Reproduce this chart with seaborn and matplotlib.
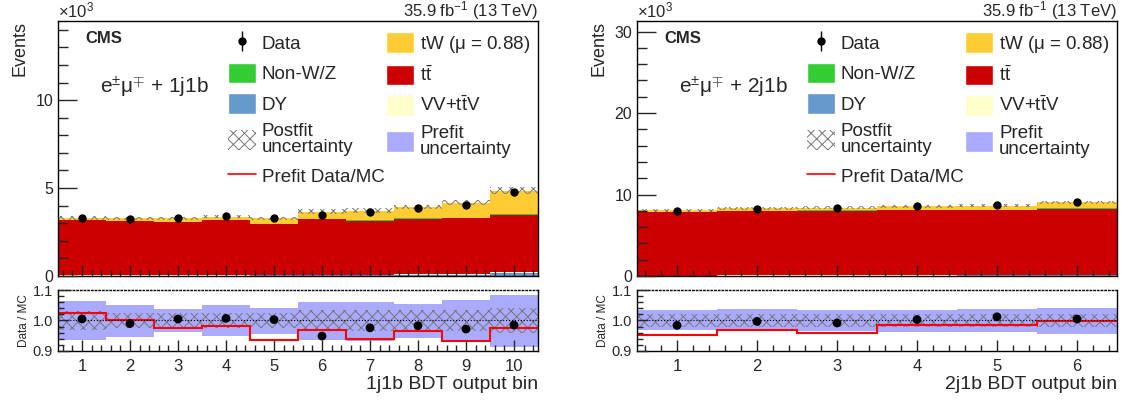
import numpy as np
import pandas as pd
import seaborn as sns
import matplotlib.pyplot as plt
from matplotlib.lines import Line2D
from matplotlib.patches import Patch
from matplotlib.ticker import MultipleLocator

sns.set_theme(style='ticks')
plt.rcParams['font.family'] = ['Liberation Sans', 'DejaVu Sans']
plt.rcParams['mathtext.fontset'] = 'custom'
plt.rcParams['mathtext.rm'] = 'Liberation Sans'
plt.rcParams['mathtext.it'] = 'Liberation Sans:italic'
plt.rcParams['hatch.linewidth'] = 0.7

# processos (de cima para baixo na pilha)
procs = ['tW', 'Non-W/Z', 'tt', 'VV', 'DY']
cores = {'tW': '#ffcc33', 'Non-W/Z': '#33cc33', 'tt': '#cc0000',
         'VV': '#ffffcc', 'DY': '#6699cc'}

# ---- 1j1b (milhares de eventos) ----
bins_1j1b = [1, 2, 3, 4, 5, 6, 7, 8, 9, 10]
tw_1j1b = [0.10, 0.15, 0.19, 0.17, 0.32, 0.42, 0.56, 0.64, 0.86, 1.34]
nonwz_1j1b = [0.02, 0.02, 0.02, 0.02, 0.02, 0.02, 0.03, 0.03, 0.03, 0.05]
tt_1j1b = [3.15, 3.09, 3.04, 3.14, 2.90, 3.15, 3.05, 3.16, 3.16, 3.25]
vv_1j1b = [0.02, 0.02, 0.02, 0.02, 0.02, 0.03, 0.03, 0.03, 0.04, 0.05]
dy_1j1b = [0.01, 0.01, 0.01, 0.02, 0.03, 0.04, 0.05, 0.06, 0.08, 0.17]
data_1j1b = [3.30, 3.25, 3.30, 3.40, 3.30, 3.47, 3.63, 3.85, 4.05, 4.77]
ratio_1j1b = [1.005, 0.990, 1.005, 1.007, 1.003, 0.949, 0.976, 0.983, 0.972, 0.985]
prefit_ratio_1j1b = [1.025, 1.003, 0.977, 0.982, 0.936, 0.970, 0.939, 0.964, 0.933, 0.975]
prefit_up_1j1b = [1.064, 1.052, 1.038, 1.051, 1.041, 1.061, 1.061, 1.054, 1.068, 1.085]
prefit_dn_1j1b = [0.936, 0.947, 0.962, 0.949, 0.955, 0.936, 0.933, 0.942, 0.933, 0.913]
postfit_unc_1j1b = [0.030, 0.025, 0.025, 0.025, 0.025, 0.035, 0.035, 0.033, 0.035, 0.040]

# ---- 2j1b ----
bins_2j1b = [1, 2, 3, 4, 5, 6]
tw_2j1b = [0.19, 0.30, 0.35, 0.43, 0.48, 0.73]
nonwz_2j1b = [0.03, 0.03, 0.03, 0.04, 0.04, 0.04]
tt_2j1b = [7.79, 7.93, 7.94, 8.00, 7.99, 8.12]
vv_2j1b = [0.03, 0.03, 0.03, 0.04, 0.04, 0.05]
dy_2j1b = [0.03, 0.04, 0.05, 0.06, 0.07, 0.09]
data_2j1b = [7.95, 8.28, 8.30, 8.60, 8.72, 9.08]
ratio_2j1b = [0.984, 0.997, 0.992, 1.003, 1.012, 1.005]
prefit_ratio_2j1b = [0.953, 0.968, 0.959, 0.984, 0.985, 0.997]
prefit_up_2j1b = [1.033, 1.038, 1.036, 1.036, 1.038, 1.042]
prefit_dn_2j1b = [0.968, 0.965, 0.964, 0.963, 0.962, 0.955]
postfit_unc_2j1b = [0.021, 0.021, 0.021, 0.021, 0.021, 0.021]

W, H = 1126, 403
fig = plt.figure(figsize=(W / 100, H / 100), dpi=100)
HATCH = 'xxx'


def ax_px(x0, y0, x1, y1):
    return fig.add_axes([x0 / W, 1 - y1 / H, (x1 - x0) / W, (y1 - y0) / H])


def painel(x0, bins, tw, nonwz, tt, vv, dy, data, ratio, pre_r, pre_up, pre_dn,
           post_unc, ymax, ymin_step, rotulo, xlabel):
    ax = ax_px(x0, 21, x0 + 480, 276)
    rax = ax_px(x0, 290, x0 + 480, 351)

    df = pd.DataFrame({
        'bin': bins * 5,
        'proc': sum([[p] * len(bins) for p in procs], []),
        'ev': tw + nonwz + tt + vv + dy,
    })
    sns.histplot(data=df, x='bin', weights='ev', hue='proc', hue_order=procs,
                 palette=cores, multiple='stack', discrete=True, element='step',
                 linewidth=0, alpha=1, legend=False, ax=ax)

    b = np.array(bins)
    edges = np.append(b - 0.5, b[-1] + 0.5)
    total = np.array(tw) + np.array(nonwz) + np.array(tt) + np.array(vv) + np.array(dy)
    unc = np.array(post_unc)
    lo = np.append(total * (1 - unc), total[-1] * (1 - unc[-1]))
    hi = np.append(total * (1 + unc), total[-1] * (1 + unc[-1]))
    ax.fill_between(edges, lo, hi, step='post', facecolor='none',
                    edgecolor='#777777', hatch=HATCH, linewidth=0)
    ax.plot(b, data, 'o', color='black', ms=5)

    ax.set_axisbelow(False)
    ax.set_xlim(edges[0], edges[-1])
    ax.set_ylim(0, ymax)
    ax.set_xlabel('')
    ax.set_ylabel('Events', loc='top', fontsize=13)
    ax.yaxis.set_label_coords(-0.062, 1.0)
    ax.xaxis.set_major_locator(MultipleLocator(1))
    ax.xaxis.set_minor_locator(MultipleLocator(0.2))
    ax.yaxis.set_major_locator(MultipleLocator(ymin_step * 5))
    ax.yaxis.set_minor_locator(MultipleLocator(ymin_step))
    ax.tick_params(axis='x', labelbottom=False)
    ax.tick_params(axis='y', which='major', direction='in', length=14, width=1, labelsize=11.5)
    ax.tick_params(axis='y', which='minor', direction='in', length=7, width=1)
    ax.tick_params(axis='x', which='major', direction='in', length=8, width=1)
    ax.tick_params(axis='x', which='minor', direction='in', length=4, width=1)
    for s in ax.spines.values():
        s.set_color('black')
        s.set_linewidth(1)

    ax.text(0, 1.004, r'$\times$10$^{3}$', transform=ax.transAxes, fontsize=12,
            ha='left', va='bottom')
    ax.text(1, 1.018, r'35.9 fb$^{-1}$ (13 TeV)', transform=ax.transAxes,
            fontsize=12, ha='right', va='baseline')
    ax.text(0.058, 0.93, 'CMS', transform=ax.transAxes, fontsize=12,
            fontweight='bold', ha='left', va='center')
    ax.text(0.088, 0.74, r'e$^{\pm}$μ$^{\mp}$ + ' + rotulo, transform=ax.transAxes,
            fontsize=15, ha='left', va='center')

    hs = [
        (Line2D([], [], marker='o', ls='', color='black', ms=5),
         Line2D([], [], marker='|', ls='', color='black', ms=15, mew=1)),
        Patch(facecolor=cores['Non-W/Z']),
        Patch(facecolor=cores['DY']),
        Patch(facecolor='none', edgecolor='#777777', hatch=HATCH, linewidth=0),
        Line2D([], [], color='red', lw=1.2),
        Patch(facecolor=cores['tW']),
        Patch(facecolor=cores['tt']),
        Patch(facecolor=cores['VV']),
        Patch(facecolor='#aaaaff'),
    ]
    labs = ['Data', 'Non-W/Z', 'DY', 'Postfit\nuncertainty', 'Prefit Data/MC',
            r'tW ($\mathregular{\mu}$ = 0.88)', r't$\bar{\mathregular{t}}$',
            r'VV+t$\bar{\mathregular{t}}$V', 'Prefit\nuncertainty']
    leg = ax.legend(hs, labs, ncol=2, loc='upper left', bbox_to_anchor=(0.354, 0.955),
                    frameon=False, fontsize=13.5, borderpad=0, borderaxespad=0,
                    handlelength=1.5, handleheight=1.33, handletextpad=0.3,
                    labelspacing=0.5, columnspacing=0.1)
    for t in leg.get_texts():
        t.set_linespacing(0.95)

    # painel de razão
    rax.bar(b, np.array(pre_up) - np.array(pre_dn), bottom=pre_dn, width=1,
            color='#aaaaff', linewidth=0)
    lo_r = np.append(1 - unc, 1 - unc[-1])
    hi_r = np.append(1 + unc, 1 + unc[-1])
    rax.fill_between(edges, lo_r, hi_r, step='post', facecolor='none',
                     edgecolor='#777777', hatch=HATCH, linewidth=0)
    rax.axhline(1.0, color='black', ls=':', lw=0.8)
    rax.stairs(pre_r, edges, color='red', lw=1.5, baseline=None)
    sns.scatterplot(x=b, y=ratio, color='black', s=40, edgecolor='none', ax=rax)

    rax.set_axisbelow(False)
    rax.set_xlim(edges[0], edges[-1])
    rax.set_ylim(0.9, 1.1)
    rax.set_yticks([0.9, 1.0, 1.1], ['0.9', '1.0', '1.1'])
    rax.yaxis.set_minor_locator(MultipleLocator(0.02))
    rax.xaxis.set_major_locator(MultipleLocator(1))
    rax.xaxis.set_minor_locator(MultipleLocator(0.2))
    rax.tick_params(which='major', direction='in', length=8, width=1)
    rax.tick_params(which='minor', direction='in', length=4, width=1)
    rax.tick_params(axis='y', labelsize=10.5)
    rax.tick_params(axis='x', labelsize=12, pad=6)
    rax.set_ylabel('Data / MC', fontsize=8.5)
    rax.yaxis.set_label_coords(-0.058, 0.5)
    rax.set_xlabel(xlabel, loc='right', fontsize=14, labelpad=1)
    for s in rax.spines.values():
        s.set_color('black')
        s.set_linewidth(1)
    rax.spines['top'].set_linestyle(':')


painel(58, bins_1j1b, tw_1j1b, nonwz_1j1b, tt_1j1b, vv_1j1b, dy_1j1b, data_1j1b,
       ratio_1j1b, prefit_ratio_1j1b, prefit_up_1j1b, prefit_dn_1j1b,
       postfit_unc_1j1b, 14.5, 1, '1j1b', '1j1b BDT output bin')
painel(637, bins_2j1b, tw_2j1b, nonwz_2j1b, tt_2j1b, vv_2j1b, dy_2j1b, data_2j1b,
       ratio_2j1b, prefit_ratio_2j1b, prefit_up_2j1b, prefit_dn_2j1b,
       postfit_unc_2j1b, 31.3, 2, '2j1b', '2j1b BDT output bin')

fig.savefig('out.png', dpi=100)
